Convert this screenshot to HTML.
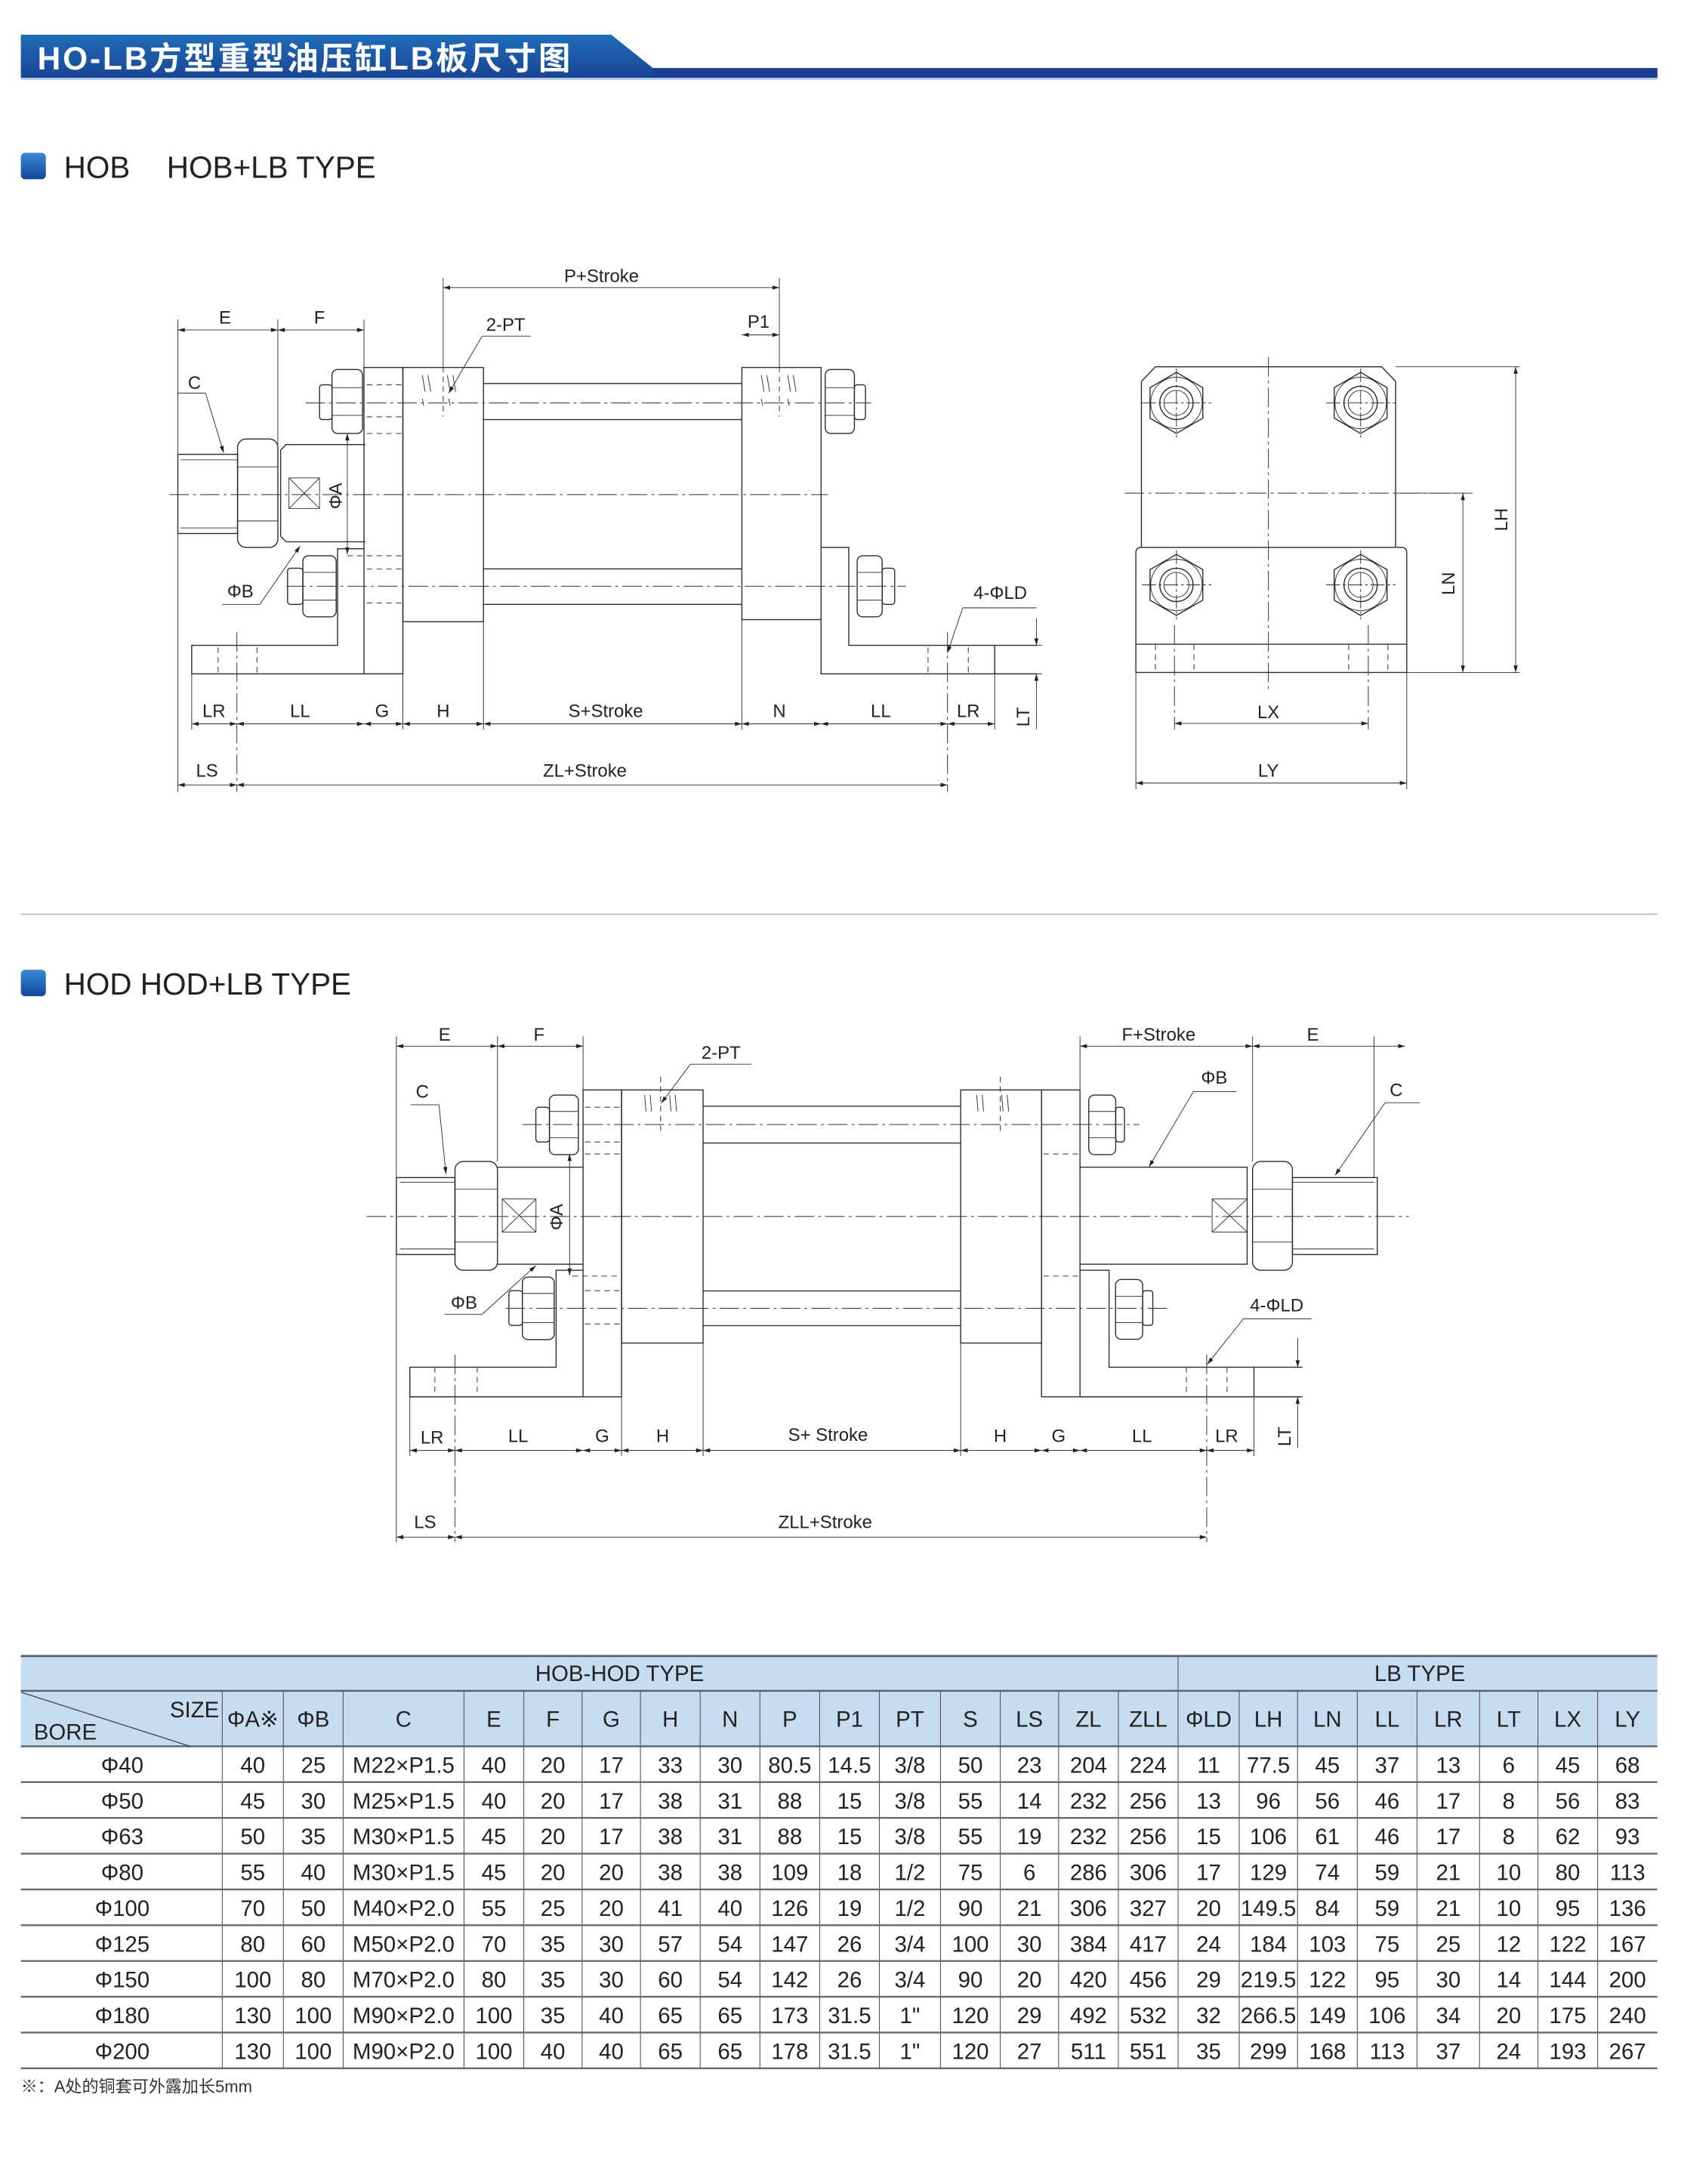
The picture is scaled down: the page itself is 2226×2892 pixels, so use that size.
<!DOCTYPE html>
<html><head><meta charset="utf-8">
<style>
html,body{margin:0;padding:0;background:#fff;}
svg{display:block;}
.s{stroke:#2a2a2a;stroke-width:0.75;fill:none;}
.t{stroke:#2a2a2a;stroke-width:0.5;fill:none;}
.c{stroke:#444;stroke-width:0.6;fill:none;stroke-dasharray:14 3 2 3;}
.d{stroke:#444;stroke-width:0.6;fill:none;stroke-dasharray:4 3;}
.dm{stroke:#2a2a2a;stroke-width:0.5;fill:none;marker-start:url(#a);marker-end:url(#a);}
.de{stroke:#2a2a2a;stroke-width:0.5;fill:none;marker-end:url(#a);}
.l{font-family:"Liberation Sans",sans-serif;font-size:13px;fill:#222;text-anchor:middle;}
.tb{font-family:"Liberation Sans Narrow","Liberation Sans",sans-serif;font-size:16px;fill:#222;text-anchor:middle;}
.th{font-family:"Liberation Sans Narrow","Liberation Sans",sans-serif;font-size:16px;fill:#222;text-anchor:middle;}
.hl{stroke:#6a6a6a;stroke-width:1.3;}
.vl{stroke:#555;stroke-width:0.6;}
</style></head>
<body>
<svg width="2226" height="2892" viewBox="0 0 1210 1572" xmlns="http://www.w3.org/2000/svg">
<defs>
<marker id="a" viewBox="0 0 10 10" refX="10" refY="5" markerUnits="userSpaceOnUse" markerWidth="7" markerHeight="5" orient="auto-start-reverse"><path d="M0,2L10,5L0,8z" fill="#222"/></marker>
<linearGradient id="g" x1="0" y1="0" x2="0" y2="1"><stop offset="0" stop-color="#1f6cb8"/><stop offset="1" stop-color="#1a4595"/></linearGradient>
<linearGradient id="sq" x1="0" y1="0" x2="0" y2="1"><stop offset="0" stop-color="#3a8ad6"/><stop offset="1" stop-color="#12459a"/></linearGradient>
</defs>

<!-- Title -->
<polygon points="15,25 440,25 470,49 1193,49 1193,56 15,56" fill="url(#g)"/>
<rect x="470" y="49" width="723" height="7" fill="#1d3f93"/>
<line x1="15" y1="56.8" x2="1193" y2="56.8" stroke="#8fb3e0" stroke-width="1"/>
<text x="27" y="50" font-family="'Liberation Sans','Noto Sans CJK SC',sans-serif" font-weight="bold" font-size="23" letter-spacing="1.6" fill="#fff">HO-LB方型重型油压缸LB板尺寸图</text>

<!-- Section 1 header -->
<rect x="15" y="110" width="18" height="19" rx="3" fill="url(#sq)"/>
<text x="46" y="128" font-family="'Liberation Sans',sans-serif" font-size="22" fill="#222">HOB</text>
<text x="120" y="128" font-family="'Liberation Sans',sans-serif" font-size="22" fill="#222">HOB+LB TYPE</text>

<!-- ================= Drawing 1 ================= -->
<line class="dm" x1="128" y1="237.5" x2="200" y2="237.5"/>
<line class="dm" x1="200" y1="237.5" x2="262" y2="237.5"/>
<text class="l" x="162" y="233">E</text><text class="l" x="230" y="233">F</text>
<line class="t" x1="128" y1="230" x2="128" y2="570"/>
<line class="t" x1="200" y1="230" x2="200" y2="320"/>
<line class="t" x1="262" y1="230" x2="262" y2="265"/>
<line class="dm" x1="319" y1="207" x2="561" y2="207"/>
<text class="l" x="433" y="203">P+Stroke</text>
<line class="t" x1="319" y1="200" x2="319" y2="264"/>
<line class="d" x1="319" y1="264" x2="319" y2="300"/>
<line class="t" x1="561" y1="200" x2="561" y2="264"/>
<line class="d" x1="561" y1="264" x2="561" y2="300"/>
<line class="dm" x1="534" y1="241" x2="561" y2="241"/>
<text class="l" x="546" y="236">P1</text>
<text class="l" x="364" y="238">2-PT</text>
<line class="t" x1="347" y1="242" x2="382" y2="242"/>
<line class="de" x1="347" y1="242" x2="323" y2="283"/>
<g class="t"><path d="M304,270l2,12M308,270l2,12M322,270l2,12M326,270l2,12M304,287l1,5M323,287l1,5M548,270l2,12M552,270l2,12M567,270l2,12M571,270l2,12M548,287l1,5M567,287l1,5"/></g>

<rect class="s" x="128" y="327" width="43" height="57"/>
<line class="t" x1="130" y1="331" x2="171" y2="331"/><line class="t" x1="130" y1="380" x2="171" y2="380"/>
<rect class="s" x="171" y="316" width="29" height="78" rx="6"/>
<line class="t" x1="171" y1="336" x2="200" y2="336"/><line class="t" x1="171" y1="375" x2="200" y2="375"/>
<path class="s" d="M202,324 L206,320 H263 M202,386 L206,390 H263 M202,324 V386"/>
<rect class="t" x="208" y="344" width="22" height="22"/>
<path class="t" d="M208,344L230,366M230,344L208,366"/>
<line class="dm" x1="250" y1="312" x2="250" y2="399"/>
<text class="l" transform="translate(246,357) rotate(-90)">ΦA</text>
<line class="c" x1="122" y1="356" x2="596" y2="356"/>
<text class="l" x="140" y="280">C</text>
<path class="t" d="M128,283 H148"/><line class="de" x1="148" y1="283" x2="161" y2="326"/>
<text class="l" x="173" y="430">ΦB</text>
<line class="t" x1="160" y1="435" x2="187" y2="435"/>
<line class="de" x1="187" y1="435" x2="216" y2="393"/>

<rect class="s" x="262" y="264.5" width="28" height="220.5"/>
<rect class="s" x="290" y="264.5" width="58" height="183"/>
<path class="s" d="M262,485 H138 V464.5 H243 V395 H262"/>
<g class="d"><path d="M264,277H290M264,300H290M264,312H290M250,400H290M264,409.5H290M264,434H290"/></g>
<g class="s"><path d="M348,276H534M348,302H534M348,409.5H534M348,435H534"/></g>
<rect class="s" x="534" y="264.5" width="57" height="181.5"/>
<path class="s" d="M591,394 H611 V464.5 H746 M591,446 V485 H746 M716,464.5 V485"/>
<rect class="s" x="239" y="266" width="22" height="46" rx="4"/><path class="t" d="M239,279H261M239,299H261"/>
<rect class="s" x="230" y="277" width="9" height="25" rx="2"/>
<rect class="s" x="218" y="400" width="24" height="44" rx="4"/><path class="t" d="M218,412H242M218,432H242"/>
<rect class="s" x="207" y="409" width="11" height="26" rx="2"/>
<rect class="s" x="594" y="266" width="21" height="46" rx="4"/><path class="t" d="M594,279H615M594,299H615"/>
<rect class="s" x="615" y="277" width="8" height="25" rx="2"/>
<rect class="s" x="617" y="400" width="18" height="44" rx="4"/><path class="t" d="M617,412H635M617,432H635"/>
<rect class="s" x="635" y="409" width="9" height="26" rx="2"/>
<line class="c" x1="220" y1="290" x2="627" y2="290"/>
<line class="c" x1="206" y1="422" x2="652" y2="422"/>
<g class="d"><path d="M157,466V485M185,466V485M668,466V485M697,466V485"/></g>
<line class="c" x1="170.5" y1="455" x2="170.5" y2="570"/>
<line class="c" x1="682" y1="455" x2="682" y2="570"/>
<text class="l" x="720" y="431">4-ΦLD</text>
<line class="t" x1="693" y1="437.5" x2="746" y2="437.5"/>
<line class="de" x1="693" y1="437.5" x2="682" y2="470"/>
<line class="de" x1="746" y1="445" x2="746" y2="464.5"/>
<line class="de" x1="746" y1="525" x2="746" y2="485"/>
<path class="t" d="M716,464.5H750M716,485H750"/>
<text class="l" transform="translate(741,516) rotate(-90)">LT</text>
<g class="t"><path d="M138,485V525M290,447V525M348,447V525M534,446V525M716,485V525"/></g>
<line class="dm" x1="138" y1="521" x2="170.5" y2="521"/>
<line class="dm" x1="170.5" y1="521" x2="262" y2="521"/>
<line class="dm" x1="262" y1="521" x2="290" y2="521"/>
<line class="dm" x1="290" y1="521" x2="348" y2="521"/>
<line class="dm" x1="348" y1="521" x2="534" y2="521"/>
<line class="dm" x1="534" y1="521" x2="591" y2="521"/>
<line class="dm" x1="591" y1="521" x2="682" y2="521"/>
<line class="dm" x1="682" y1="521" x2="716" y2="521"/>
<text class="l" x="154" y="516">LR</text><text class="l" x="216" y="516">LL</text><text class="l" x="275" y="516">G</text>
<text class="l" x="319" y="516">H</text><text class="l" x="436" y="516">S+Stroke</text><text class="l" x="561" y="516">N</text>
<text class="l" x="634" y="516">LL</text><text class="l" x="697" y="516">LR</text>
<line class="dm" x1="128" y1="565" x2="170.5" y2="565"/>
<line class="dm" x1="170.5" y1="565" x2="682" y2="565"/>
<text class="l" x="149" y="559">LS</text><text class="l" x="421" y="559">ZL+Stroke</text>

<!-- ================= Side view ================= -->
<path class="s" d="M831.7,264 H994.5 L1004.6,274.5 V394 M831.7,264 L821.6,274.5 V394"/>
<path class="s" d="M817.6,484 V398 Q817.6,394 821.6,394 H1008.6 Q1012.6,394 1012.6,398 V484 H817.6 M817.6,463.7 H1012.6"/>
<line class="c" x1="913" y1="257" x2="913" y2="496"/>
<line class="c" x1="809.6" y1="355" x2="1055" y2="355"/>
<g id="nut1">
<polygon class="s" points="846.8,268 865.8,279 865.8,301 846.8,312 827.8,301 827.8,279"/>
<circle class="t" cx="846.8" cy="290" r="18.5"/>
<circle class="s" cx="846.8" cy="290" r="12"/>
<circle class="t" cx="846.8" cy="290" r="9"/>
<path class="t" d="M822,290H872M846.8,265V315" stroke-dasharray="10 2 2 2"/>
</g>
<use href="#nut1" x="132.6" y="0"/>
<use href="#nut1" x="0" y="131"/>
<use href="#nut1" x="132.6" y="131"/>
<g class="d"><path d="M831.7,464V484M859.4,464V484M970.8,464V484M999,464V484"/></g>
<line class="c" x1="845.4" y1="450" x2="845.4" y2="525"/>
<line class="c" x1="984.9" y1="450" x2="984.9" y2="525"/>
<line class="dm" x1="845.4" y1="520.7" x2="984.9" y2="520.7"/>
<text class="l" x="913" y="517">LX</text>
<path class="t" d="M817.6,484V568M1012.6,484V568"/>
<line class="dm" x1="817.6" y1="563.6" x2="1012.6" y2="563.6"/>
<text class="l" x="913" y="559">LY</text>
<path class="t" d="M1004.6,264H1094M1012.6,484H1094M1004.6,355H1060"/>
<line class="dm" x1="1053" y1="355" x2="1053" y2="484"/>
<line class="dm" x1="1091" y1="264" x2="1091" y2="484"/>
<text class="l" transform="translate(1047,420) rotate(-90)">LN</text>
<text class="l" transform="translate(1085,374) rotate(-90)">LH</text>

<line x1="15" y1="658" x2="1193" y2="658" stroke="#aaa" stroke-width="0.8"/>

<rect x="15" y="698" width="18" height="19" rx="3" fill="url(#sq)"/>
<text x="46" y="716" font-family="'Liberation Sans',sans-serif" font-size="22" fill="#222">HOD HOD+LB TYPE</text>

<!-- ================= Drawing 2 ================= -->
<line class="dm" x1="285.3" y1="753" x2="358.1" y2="753"/>
<line class="dm" x1="358.1" y1="753" x2="419.7" y2="753"/>
<text class="l" x="320" y="749">E</text><text class="l" x="388" y="749">F</text>
<path class="t" d="M285.3,746V1110M358.1,746V836M419.7,746V784"/>
<line class="dm" x1="777.4" y1="753" x2="901.6" y2="753"/>
<line class="dm" x1="901.6" y1="753" x2="1011.4" y2="753"/>
<text class="l" x="834" y="749">F+Stroke</text><text class="l" x="945" y="749">E</text>
<path class="t" d="M777.4,746V784M901.6,746V836M989,746V848"/>
<text class="l" x="519" y="762">2-PT</text>
<line class="t" x1="497" y1="766" x2="541" y2="766"/>
<line class="de" x1="497" y1="766" x2="476" y2="794"/>
<text class="l" x="874" y="780">ΦB</text>
<line class="t" x1="859" y1="785.7" x2="890" y2="785.7"/>
<line class="de" x1="859" y1="785.7" x2="827" y2="840"/>
<text class="l" x="1005" y="789">C</text>
<line class="t" x1="997" y1="793.7" x2="1022" y2="793.7"/>
<line class="de" x1="997" y1="793.7" x2="961" y2="846"/>
<text class="l" x="304" y="790">C</text>
<path class="t" d="M295.5,795.2H316"/><line class="de" x1="316" y1="795.2" x2="321" y2="845"/>
<text class="l" x="334" y="942">ΦB</text>
<line class="t" x1="320" y1="946" x2="347" y2="946"/>
<line class="de" x1="347" y1="946" x2="385.7" y2="911"/>

<rect class="s" x="285.3" y="847.6" width="42.2" height="55.4"/>
<path class="t" d="M288,851H327.5M288,899H327.5"/>
<rect class="s" x="327.5" y="836" width="30.6" height="78.3" rx="6"/>
<path class="t" d="M327.5,856H358.1M327.5,894H358.1"/>
<path class="s" d="M358.1,840.1H419.7M358.1,910H419.7"/>
<rect class="t" x="361.5" y="863" width="24.3" height="23.8"/>
<path class="t" d="M361.5,863L385.8,886.8M385.8,863L361.5,886.8"/>
<line class="dm" x1="410" y1="830.6" x2="410" y2="918"/>
<text class="l" transform="translate(405,876) rotate(-90)">ΦA</text>
<path class="s" d="M777.4,840.1H897.7V910H777.4"/>
<rect class="t" x="872.5" y="863" width="25.2" height="23.8"/>
<path class="t" d="M872.5,863L897.7,886.8M897.7,863L872.5,886.8"/>
<rect class="s" x="901.6" y="836" width="28.7" height="78.3" rx="6"/>
<path class="t" d="M901.6,856H930.3M901.6,894H930.3"/>
<rect class="s" x="930.3" y="847.6" width="61.1" height="55.4"/>
<path class="t" d="M930.3,851H989M930.3,899H989"/>
<line class="c" x1="264" y1="875.6" x2="1014" y2="875.6"/>

<rect class="s" x="419.7" y="784.5" width="27.7" height="220.9"/>
<rect class="s" x="447.4" y="784.5" width="58.7" height="182.2"/>
<rect class="s" x="691.5" y="784.5" width="58.2" height="182.2"/>
<rect class="s" x="749.7" y="784.5" width="27.7" height="220.9"/>
<g class="s"><path d="M506.1,796.2H691.5M506.1,822.7H691.5M506.1,929.2H691.5M506.1,954.2H691.5"/></g>
<path class="s" d="M419.7,1005.4H295V984.1H400.3V914.3H419.7"/>
<path class="s" d="M777.4,914.3H798.3V984.1H937.5M777.4,1005.4H937.5M902.6,984.1V1005.4"/>
<g class="d"><path d="M421,797H447M421,822H447M421,830.6H447M412,918.5H447M421,929H447M421,953H447M751,830.6H777M751,918.5H777"/></g>
<g class="t"><path d="M464,788l1,12M468,788l1,12M482,788l1,12M486,788l1,12M703,788l1,12M707,788l1,12M721,788l1,12M725,788l1,12"/></g>
<path class="d" d="M475.5,775V815M720,775V815"/>
<rect class="s" x="395.5" y="788.2" width="20.8" height="42.9" rx="4"/><path class="t" d="M395.5,800H416.3M395.5,819H416.3"/>
<rect class="s" x="385.7" y="797" width="9.8" height="25" rx="2"/>
<rect class="s" x="376" y="919.2" width="22.9" height="45" rx="4"/><path class="t" d="M376,931H398.9M376,952H398.9"/>
<rect class="s" x="366.3" y="929" width="9.7" height="25" rx="2"/>
<rect class="s" x="783.7" y="788.2" width="19.4" height="42.9" rx="4"/><path class="t" d="M783.7,800H803.1M783.7,819H803.1"/>
<rect class="s" x="803.1" y="797" width="6.3" height="25" rx="2"/>
<rect class="s" x="803" y="921" width="19.5" height="43" rx="4"/><path class="t" d="M803,933H822.5M803,952H822.5"/>
<rect class="s" x="822.5" y="929" width="7.3" height="25" rx="2"/>
<line class="c" x1="376" y1="809.4" x2="820" y2="809.4"/>
<line class="c" x1="364" y1="941.7" x2="840" y2="941.7"/>
<g class="d"><path d="M313,984V1005M343.5,984V1005M854,984V1005M883.2,984V1005"/></g>
<line class="c" x1="327.5" y1="975" x2="327.5" y2="1110"/>
<line class="c" x1="868.6" y1="975" x2="868.6" y2="1110"/>
<text class="l" x="919" y="944">4-ΦLD</text>
<line class="t" x1="895" y1="949.2" x2="944" y2="949.2"/>
<line class="de" x1="895" y1="949.2" x2="869" y2="982"/>
<line class="de" x1="934.1" y1="963" x2="934.1" y2="984.1"/>
<line class="de" x1="934.1" y1="1042" x2="934.1" y2="1005.4"/>
<text class="l" transform="translate(929,1034) rotate(-90)">LT</text>
<g class="t"><path d="M295,1005V1048M447.4,966V1048M506.1,966V1048M691.5,966V1048M902.6,1005V1048"/></g>
<line class="dm" x1="295" y1="1044" x2="327.5" y2="1044"/>
<line class="dm" x1="327.5" y1="1044" x2="419.7" y2="1044"/>
<line class="dm" x1="419.7" y1="1044" x2="447.4" y2="1044"/>
<line class="dm" x1="447.4" y1="1044" x2="506.1" y2="1044"/>
<line class="dm" x1="506.1" y1="1044" x2="691.5" y2="1044"/>
<line class="dm" x1="691.5" y1="1044" x2="749.7" y2="1044"/>
<line class="dm" x1="749.7" y1="1044" x2="777.4" y2="1044"/>
<line class="dm" x1="777.4" y1="1044" x2="868.6" y2="1044"/>
<line class="dm" x1="868.6" y1="1044" x2="902.6" y2="1044"/>
<text class="l" x="311" y="1039">LR</text><text class="l" x="373" y="1038">LL</text><text class="l" x="433.5" y="1038">G</text>
<text class="l" x="477" y="1038">H</text><text class="l" x="596" y="1037">S+ Stroke</text><text class="l" x="720" y="1038">H</text>
<text class="l" x="762" y="1038">G</text><text class="l" x="822" y="1038">LL</text><text class="l" x="883" y="1038">LR</text>
<line class="dm" x1="285.3" y1="1106.4" x2="327.5" y2="1106.4"/>
<line class="dm" x1="327.5" y1="1106.4" x2="868.6" y2="1106.4"/>
<text class="l" x="306" y="1100">LS</text><text class="l" x="594" y="1100">ZLL+Stroke</text>

<!-- ================= Table ================= -->
<rect x="15" y="1192" width="1178" height="65" fill="#c6dcf1"/>
<g class="vl">
<line x1="848" y1="1192" x2="848" y2="1489"/>
<path d="M160,1217V1489M204,1217V1489M247,1217V1489M334,1217V1489M377,1217V1489M419,1217V1489M461,1217V1489M504,1217V1489M547,1217V1489M590,1217V1489M633,1217V1489M677,1217V1489M720,1217V1489M762,1217V1489M805,1217V1489M892,1217V1489M934,1217V1489M977,1217V1489M1020,1217V1489M1065,1217V1489M1107,1217V1489M1150,1217V1489"/>
</g>
<line x1="15" y1="1192" x2="1193" y2="1192" stroke="#55606e" stroke-width="1.5"/>
<line x1="15" y1="1217" x2="1193" y2="1217" stroke="#55606e" stroke-width="1.3"/>
<line x1="15" y1="1257" x2="1193" y2="1257" stroke="#55606e" stroke-width="1.3"/>
<g class="hl"><path d="M15,1282.75H1193M15,1308.5H1193M15,1334.25H1193M15,1360H1193M15,1385.75H1193M15,1411.5H1193M15,1437.25H1193M15,1463H1193M15,1488.75H1193"/></g>
<line x1="15" y1="1218" x2="137" y2="1257" stroke="#444" stroke-width="0.7"/>
<text class="th" x="446" y="1210">HOB-HOD TYPE</text>
<text class="th" x="1022" y="1210">LB TYPE</text>
<text class="th" x="140" y="1236">SIZE</text>
<text class="th" x="47" y="1252">BORE</text>
<g class="th" transform="translate(0,1243)">
<text class="th" x="182">ΦA※</text><text class="th" x="225.5">ΦB</text><text class="th" x="290.5">C</text><text class="th" x="355.5">E</text><text class="th" x="398">F</text><text class="th" x="440">G</text><text class="th" x="482.5">H</text><text class="th" x="525.5">N</text><text class="th" x="568.5">P</text><text class="th" x="611.5">P1</text><text class="th" x="655">PT</text><text class="th" x="698.5">S</text><text class="th" x="741">LS</text><text class="th" x="783.5">ZL</text><text class="th" x="826.5">ZLL</text><text class="th" x="870">ΦLD</text><text class="th" x="913">LH</text><text class="th" x="955.5">LN</text><text class="th" x="998.5">LL</text><text class="th" x="1042.5">LR</text><text class="th" x="1086">LT</text><text class="th" x="1128.5">LX</text><text class="th" x="1171.5">LY</text>
</g>

<g transform="translate(0,1276)">
<text class="tb" x="88">Φ40</text><text class="tb" x="182">40</text><text class="tb" x="225.5">25</text><text class="tb" x="290.5">M22×P1.5</text><text class="tb" x="355.5">40</text><text class="tb" x="398">20</text><text class="tb" x="440">17</text><text class="tb" x="482.5">33</text><text class="tb" x="525.5">30</text><text class="tb" x="568.5">80.5</text><text class="tb" x="611.5">14.5</text><text class="tb" x="655">3/8</text><text class="tb" x="698.5">50</text><text class="tb" x="741">23</text><text class="tb" x="783.5">204</text><text class="tb" x="826.5">224</text><text class="tb" x="870">11</text><text class="tb" x="913">77.5</text><text class="tb" x="955.5">45</text><text class="tb" x="998.5">37</text><text class="tb" x="1042.5">13</text><text class="tb" x="1086">6</text><text class="tb" x="1128.5">45</text><text class="tb" x="1171.5">68</text>
</g>
<g transform="translate(0,1301.75)">
<text class="tb" x="88">Φ50</text><text class="tb" x="182">45</text><text class="tb" x="225.5">30</text><text class="tb" x="290.5">M25×P1.5</text><text class="tb" x="355.5">40</text><text class="tb" x="398">20</text><text class="tb" x="440">17</text><text class="tb" x="482.5">38</text><text class="tb" x="525.5">31</text><text class="tb" x="568.5">88</text><text class="tb" x="611.5">15</text><text class="tb" x="655">3/8</text><text class="tb" x="698.5">55</text><text class="tb" x="741">14</text><text class="tb" x="783.5">232</text><text class="tb" x="826.5">256</text><text class="tb" x="870">13</text><text class="tb" x="913">96</text><text class="tb" x="955.5">56</text><text class="tb" x="998.5">46</text><text class="tb" x="1042.5">17</text><text class="tb" x="1086">8</text><text class="tb" x="1128.5">56</text><text class="tb" x="1171.5">83</text>
</g>
<g transform="translate(0,1327.5)">
<text class="tb" x="88">Φ63</text><text class="tb" x="182">50</text><text class="tb" x="225.5">35</text><text class="tb" x="290.5">M30×P1.5</text><text class="tb" x="355.5">45</text><text class="tb" x="398">20</text><text class="tb" x="440">17</text><text class="tb" x="482.5">38</text><text class="tb" x="525.5">31</text><text class="tb" x="568.5">88</text><text class="tb" x="611.5">15</text><text class="tb" x="655">3/8</text><text class="tb" x="698.5">55</text><text class="tb" x="741">19</text><text class="tb" x="783.5">232</text><text class="tb" x="826.5">256</text><text class="tb" x="870">15</text><text class="tb" x="913">106</text><text class="tb" x="955.5">61</text><text class="tb" x="998.5">46</text><text class="tb" x="1042.5">17</text><text class="tb" x="1086">8</text><text class="tb" x="1128.5">62</text><text class="tb" x="1171.5">93</text>
</g>
<g transform="translate(0,1353.25)">
<text class="tb" x="88">Φ80</text><text class="tb" x="182">55</text><text class="tb" x="225.5">40</text><text class="tb" x="290.5">M30×P1.5</text><text class="tb" x="355.5">45</text><text class="tb" x="398">20</text><text class="tb" x="440">20</text><text class="tb" x="482.5">38</text><text class="tb" x="525.5">38</text><text class="tb" x="568.5">109</text><text class="tb" x="611.5">18</text><text class="tb" x="655">1/2</text><text class="tb" x="698.5">75</text><text class="tb" x="741">6</text><text class="tb" x="783.5">286</text><text class="tb" x="826.5">306</text><text class="tb" x="870">17</text><text class="tb" x="913">129</text><text class="tb" x="955.5">74</text><text class="tb" x="998.5">59</text><text class="tb" x="1042.5">21</text><text class="tb" x="1086">10</text><text class="tb" x="1128.5">80</text><text class="tb" x="1171.5">113</text>
</g>
<g transform="translate(0,1379)">
<text class="tb" x="88">Φ100</text><text class="tb" x="182">70</text><text class="tb" x="225.5">50</text><text class="tb" x="290.5">M40×P2.0</text><text class="tb" x="355.5">55</text><text class="tb" x="398">25</text><text class="tb" x="440">20</text><text class="tb" x="482.5">41</text><text class="tb" x="525.5">40</text><text class="tb" x="568.5">126</text><text class="tb" x="611.5">19</text><text class="tb" x="655">1/2</text><text class="tb" x="698.5">90</text><text class="tb" x="741">21</text><text class="tb" x="783.5">306</text><text class="tb" x="826.5">327</text><text class="tb" x="870">20</text><text class="tb" x="913">149.5</text><text class="tb" x="955.5">84</text><text class="tb" x="998.5">59</text><text class="tb" x="1042.5">21</text><text class="tb" x="1086">10</text><text class="tb" x="1128.5">95</text><text class="tb" x="1171.5">136</text>
</g>
<g transform="translate(0,1404.75)">
<text class="tb" x="88">Φ125</text><text class="tb" x="182">80</text><text class="tb" x="225.5">60</text><text class="tb" x="290.5">M50×P2.0</text><text class="tb" x="355.5">70</text><text class="tb" x="398">35</text><text class="tb" x="440">30</text><text class="tb" x="482.5">57</text><text class="tb" x="525.5">54</text><text class="tb" x="568.5">147</text><text class="tb" x="611.5">26</text><text class="tb" x="655">3/4</text><text class="tb" x="698.5">100</text><text class="tb" x="741">30</text><text class="tb" x="783.5">384</text><text class="tb" x="826.5">417</text><text class="tb" x="870">24</text><text class="tb" x="913">184</text><text class="tb" x="955.5">103</text><text class="tb" x="998.5">75</text><text class="tb" x="1042.5">25</text><text class="tb" x="1086">12</text><text class="tb" x="1128.5">122</text><text class="tb" x="1171.5">167</text>
</g>
<g transform="translate(0,1430.5)">
<text class="tb" x="88">Φ150</text><text class="tb" x="182">100</text><text class="tb" x="225.5">80</text><text class="tb" x="290.5">M70×P2.0</text><text class="tb" x="355.5">80</text><text class="tb" x="398">35</text><text class="tb" x="440">30</text><text class="tb" x="482.5">60</text><text class="tb" x="525.5">54</text><text class="tb" x="568.5">142</text><text class="tb" x="611.5">26</text><text class="tb" x="655">3/4</text><text class="tb" x="698.5">90</text><text class="tb" x="741">20</text><text class="tb" x="783.5">420</text><text class="tb" x="826.5">456</text><text class="tb" x="870">29</text><text class="tb" x="913">219.5</text><text class="tb" x="955.5">122</text><text class="tb" x="998.5">95</text><text class="tb" x="1042.5">30</text><text class="tb" x="1086">14</text><text class="tb" x="1128.5">144</text><text class="tb" x="1171.5">200</text>
</g>
<g transform="translate(0,1456.25)">
<text class="tb" x="88">Φ180</text><text class="tb" x="182">130</text><text class="tb" x="225.5">100</text><text class="tb" x="290.5">M90×P2.0</text><text class="tb" x="355.5">100</text><text class="tb" x="398">35</text><text class="tb" x="440">40</text><text class="tb" x="482.5">65</text><text class="tb" x="525.5">65</text><text class="tb" x="568.5">173</text><text class="tb" x="611.5">31.5</text><text class="tb" x="655">1"</text><text class="tb" x="698.5">120</text><text class="tb" x="741">29</text><text class="tb" x="783.5">492</text><text class="tb" x="826.5">532</text><text class="tb" x="870">32</text><text class="tb" x="913">266.5</text><text class="tb" x="955.5">149</text><text class="tb" x="998.5">106</text><text class="tb" x="1042.5">34</text><text class="tb" x="1086">20</text><text class="tb" x="1128.5">175</text><text class="tb" x="1171.5">240</text>
</g>
<g transform="translate(0,1482)">
<text class="tb" x="88">Φ200</text><text class="tb" x="182">130</text><text class="tb" x="225.5">100</text><text class="tb" x="290.5">M90×P2.0</text><text class="tb" x="355.5">100</text><text class="tb" x="398">40</text><text class="tb" x="440">40</text><text class="tb" x="482.5">65</text><text class="tb" x="525.5">65</text><text class="tb" x="568.5">178</text><text class="tb" x="611.5">31.5</text><text class="tb" x="655">1"</text><text class="tb" x="698.5">120</text><text class="tb" x="741">27</text><text class="tb" x="783.5">511</text><text class="tb" x="826.5">551</text><text class="tb" x="870">35</text><text class="tb" x="913">299</text><text class="tb" x="955.5">168</text><text class="tb" x="998.5">113</text><text class="tb" x="1042.5">37</text><text class="tb" x="1086">24</text><text class="tb" x="1128.5">193</text><text class="tb" x="1171.5">267</text>
</g>
<text x="15" y="1506" font-family="'Liberation Sans','Noto Sans CJK SC',sans-serif" font-size="12" fill="#333">※：A处的铜套可外露加长5mm</text>
</svg>
</body></html>
